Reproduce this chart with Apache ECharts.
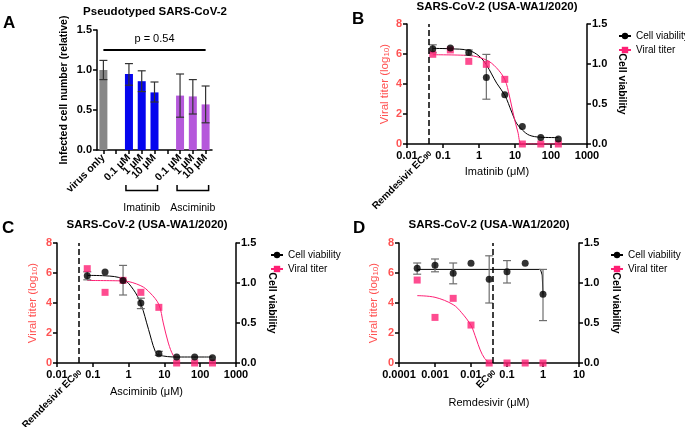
<!DOCTYPE html>
<html><head><meta charset="utf-8">
<script src="https://cdn.jsdelivr.net/npm/echarts@6/dist/echarts.min.js"></script>
<style>html,body{margin:0;padding:0;background:#fff}.pane{position:absolute;left:0;top:0;width:685px;height:427px}#err{position:absolute;left:250px;top:300px;font:9px monospace;color:#c00;white-space:pre-wrap;width:430px}</style>
</head><body><div id="err"></div>
<script>
const log = s => document.getElementById('err').textContent += s + '\n';
// ---------- Panel A data ----------
const aCategories = ['virus only', 'gap1', 'Ima 0.1', 'Ima 1', 'Ima 10', 'gap2', 'Asc 0.1', 'Asc 1', 'Asc 10'];
const aTickLabels = ['virus only', '', '0.1 μM', '1 μM', '10 μM', '', '0.1 μM', '1 μM', '10 μM'];
const aGroup = ['control', null, 'Imatinib', 'Imatinib', 'Imatinib', null, 'Asciminib', 'Asciminib', 'Asciminib'];
const aMean = [1.00, null, 0.95, 0.86, 0.72, null, 0.68, 0.67, 0.57];
const aLow  = [0.88, null, 0.81, 0.73, 0.60, null, 0.41, 0.45, 0.34];
const aHigh = [1.12, null, 1.08, 0.99, 0.85, null, 0.95, 0.88, 0.80];
const aPText = 'p = 0.54';
const aPLine = 1.25;
const aBracketNames = ['Imatinib', 'Asciminib'];
const aBracketRanges = [[2, 4], [6, 8]];

// ---------- Remdesivir EC90 (μM) ----------
const remEC90 = 0.038;

// ---------- Panel B (Imatinib) ----------
const bConc = [0.052, 0.16, 0.52, 1.6, 5.2, 16, 52, 160];
const bTiter = [5.98, 6.27, 5.51, 5.31, 4.31, 0, 0, 0];
const bViab = [1.19, 1.20, 1.145, 0.83, 0.615, 0.22, 0.08, 0.0625];
const bViabLow = [1.14, null, 1.11, 0.56, null, null, null, null];
const bViabHigh = [1.24, null, 1.175, 1.12, null, null, null, null];
const bFitViabX = [0.052, 0.16, 0.52, 1.0, 1.6, 3.1, 5.2, 8.1, 11, 16, 25, 50, 160];
const bFitViabY = [1.195, 1.19, 1.17, 1.10, 0.99, 0.76, 0.61, 0.40, 0.26, 0.175, 0.11, 0.085, 0.08];
const bFitTiterX = [0.052, 0.52, 1.6, 3.0, 5.2, 7, 9, 12, 16, 160];
const bFitTiterY = [5.95, 5.9, 5.6, 5.1, 4.3, 3.2, 2.0, 0.8, 0, 0];

// ---------- Panel C (Asciminib) ----------
const cConc = [0.07, 0.22, 0.7, 2.2, 7, 22, 70, 220];
const cTiter = [6.29, 4.71, 5.51, 4.71, 3.71, 0, 0, 0];
const cViab = [1.09, 1.1375, 1.03, 0.75, 0.117, 0.075, 0.075, 0.067];
const cViabLow = [1.04, null, 0.85, 0.68, 0.096, null, null, null];
const cViabHigh = [1.14, null, 1.22, 0.81, 0.146, null, null, null];
const cFitViabX = [0.07, 0.22, 0.7, 1.35, 2.2, 3.6, 5.5, 7, 22, 220];
const cFitViabY = [1.095, 1.09, 1.05, 0.92, 0.74, 0.42, 0.15, 0.10, 0.075, 0.075];
const cFitTiterX = [0.07, 0.7, 2.2, 4.0, 7, 9.3, 12.9, 17.7, 22];
const cFitTiterY = [5.5, 5.47, 5.15, 4.67, 3.9, 2.67, 1.33, 0.5, 0.35];

// ---------- Panel D (Remdesivir) ----------
const dConc = [0.00032, 0.001, 0.0032, 0.01, 0.032, 0.1, 0.32, 1];
const dTiter = [5.53, 3.04, 4.31, 2.53, 0, 0, 0, 0];
const dViab = [1.183, 1.221, 1.121, 1.246, 1.046, 1.142, 1.246, 0.858];
const dViabLow = [1.11, 1.14, 0.99, null, 0.75, 1.00, null, 0.53];
const dViabHigh = [1.25, 1.30, 1.25, null, 1.34, 1.28, null, 1.17];
const dFitViabX = [0.00032, 0.85, 0.95, 1.0];
const dFitViabY = [1.17, 1.17, 1.10, 0.858];
const dFitTiterX = [0.00032, 0.001, 0.0032, 0.0055, 0.01, 0.014, 0.018, 0.024, 0.032];
const dFitTiterY = [4.49, 4.38, 3.89, 3.35, 2.5, 1.6, 0.87, 0.3, 0.03];

const panelTitle = 'SARS-CoV-2 (USA-WA1/2020)';
const aTitle = 'Pseudotyped SARS-CoV-2';
const legendNames = ['Cell viability', 'Viral titer'];

// ---------- styles ----------
const FONT = '"Liberation Sans", Arial, Helvetica, sans-serif';
const RED = '#ff5252';
const PINK = '#fe1f74';
const groupColor = { control: '#878787', Imatinib: '#0505ee', Asciminib: '#b558db' };

const axLine = () => ({ show: true, onZero: false, lineStyle: { color: '#000', width: 1.5 } });
const axTick = () => ({ show: true, length: 4, lineStyle: { color: '#000', width: 1.5 } });
const tickFont = () => ({ fontFamily: FONT, fontWeight: 'bold', fontSize: 11, color: '#000' });
const fmtLog = v => String(Number(Number(v).toPrecision(3)));
const zip = (a, b) => a.map((v, i) => [v, b[i]]);

function makeChart() {
  const d = document.createElement('div'); d.className = 'pane';
  document.body.insertBefore(d, document.getElementById('err'));
  return echarts.init(d);
}
function safeSet(chart, opt, label) {
  try { chart.setOption(opt); return true; } catch (e) { log(label + ': ' + e.message); return false; }
}
function errRenderer(color, cap, lw) {
  return function (params, api) {
    const x = api.value(0), lo = api.value(1), hi = api.value(2);
    const p1 = api.coord([x, lo]), p2 = api.coord([x, hi]);
    const st = { stroke: color, lineWidth: lw };
    return { type: 'group', children: [
      { type: 'line', shape: { x1: p1[0], y1: p1[1], x2: p2[0], y2: p2[1] }, style: st },
      { type: 'line', shape: { x1: p1[0] - cap, y1: p1[1], x2: p1[0] + cap, y2: p1[1] }, style: st },
      { type: 'line', shape: { x1: p2[0] - cap, y1: p2[1], x2: p2[0] + cap, y2: p2[1] }, style: st }
    ] };
  };
}
function errData(xs, lo, hi) { const out = []; xs.forEach((x, i) => { if (lo[i] != null) out.push([x, lo[i], hi[i]]); }); return out; }
const letterEl = (t, x, y) => ({ type: 'text', x: x, y: y, silent: true,
  style: { text: t, fontFamily: FONT, fontWeight: 'bold', fontSize: 17, fill: '#000', align: 'left', verticalAlign: 'middle' } });
const titleEl = (t, x, y) => ({ type: 'text', x: x, y: y, silent: true,
  style: { text: t, fontFamily: FONT, fontWeight: 'bold', fontSize: 11.5, fill: '#000', align: 'center', verticalAlign: 'middle' } });

// ================= Panel A =================
const chartA = makeChart();
const gridA = { left: 97, top: 30, width: 115, height: 120 };
safeSet(chartA, {
  animation: false,
  grid: gridA,
  xAxis: { type: 'category', data: aCategories, axisLine: axLine(),
    axisTick: Object.assign({ alignWithLabel: true, interval: 0 }, axTick()),
    axisLabel: Object.assign(tickFont(), { fontSize: 10.5, interval: 0, rotate: 45, margin: 6, formatter: (v, i) => aTickLabels[i] }) },
  yAxis: { type: 'value', min: 0, max: 1.5, interval: 0.5, axisLine: axLine(), axisTick: axTick(), splitLine: { show: false },
    axisLabel: Object.assign(tickFont(), { margin: 5, formatter: v => Number(v).toFixed(1) }),
    name: 'Infected cell number (relative)', nameLocation: 'middle', nameGap: 27, nameRotate: 90,
    nameTextStyle: { fontFamily: FONT, fontSize: 10.5, fontWeight: 'bold', color: '#000' } },
  series: [
    { type: 'bar', barWidth: 8, silent: true,
      data: aMean.map((v, i) => v == null ? '-' : { value: v, itemStyle: { color: groupColor[aGroup[i]] } }),
      markLine: { silent: true, symbol: ['none', 'none'], lineStyle: { color: '#000', width: 2, type: 'solid' },
        label: { show: true, position: 'middle', formatter: aPText, distance: 6, fontFamily: FONT, fontSize: 11, color: '#000' },
        data: [[{ coord: [0, aPLine] }, { coord: [8, aPLine] }]] } },
    { type: 'custom', silent: true, z: 3,
      data: aMean.map((v, i) => v == null ? null : [i, aLow[i], aHigh[i]]).filter(d => d),
      renderItem: errRenderer('#333', 4, 1.2) }
  ]
}, 'A');
try {
  const gA = [letterEl('A', 3, 23), titleEl(aTitle, 155, 12)];
  aBracketRanges.forEach((r, k) => {
    const x1 = chartA.convertToPixel({ xAxisIndex: 0 }, r[0]) - 3;
    const x2 = chartA.convertToPixel({ xAxisIndex: 0 }, r[1]) + 3;
    gA.push({ type: 'polyline', silent: true, shape: { points: [[x1, 185], [x1, 190.5], [x2, 190.5], [x2, 185]] },
      style: { stroke: '#000', lineWidth: 1.5, fill: null } });
    gA.push({ type: 'text', x: (x1 + x2) / 2, y: 208, silent: true,
      style: { text: aBracketNames[k], fontFamily: FONT, fontSize: 10.5, fill: '#000', align: 'center', verticalAlign: 'middle' } });
  });
  chartA.setOption({ graphic: gA });
} catch (e) { log('A graphic: ' + e.message); }

// ================= Panels B, C, D =================
function panel(cfg) {
  const chart = makeChart();
  const G = cfg.grid;
  const opt = {
    animation: false,
    grid: { left: G.left, top: G.top, width: G.width, height: G.height },
    legend: { left: cfg.legend[0], top: cfg.legend[1], orient: 'vertical', itemWidth: 12, itemHeight: 8, itemGap: 4,
      selectedMode: false, data: legendNames.slice(),
      textStyle: { fontFamily: FONT, fontSize: 10, color: '#000' } },
    xAxis: { type: 'log', logBase: 10, min: cfg.xmin, max: cfg.xmax,
      axisLine: axLine(), axisTick: axTick(), splitLine: { show: false },
      axisLabel: Object.assign(tickFont(), { margin: 6, formatter: fmtLog }),
      name: cfg.xName, nameLocation: 'middle', nameGap: cfg.xGap,
      nameTextStyle: { fontFamily: FONT, fontSize: 11, color: '#000' } },
    yAxis: [
      { type: 'value', position: 'left', min: 0, max: 8, interval: 2,
        axisLine: axLine(), axisTick: axTick(), splitLine: { show: false },
        axisLabel: Object.assign(tickFont(), { color: RED, margin: 5 }),
        name: 'Viral titer (log{s|10})', nameLocation: 'middle', nameGap: cfg.lGap, nameRotate: 90,
        nameTextStyle: { fontFamily: FONT, fontSize: 11.5, color: RED,
          rich: { s: { fontFamily: FONT, fontSize: 8, color: RED, verticalAlign: 'bottom' } } } },
      { type: 'value', position: 'right', min: 0, max: 1.5, interval: 0.5,
        axisLine: axLine(), axisTick: axTick(), splitLine: { show: false },
        axisLabel: Object.assign(tickFont(), { margin: 5, formatter: v => Number(v).toFixed(1) }),
        name: 'Cell viability', nameLocation: 'middle', nameGap: cfg.rGap, nameRotate: -90,
        nameTextStyle: { fontFamily: FONT, fontSize: 10.5, fontWeight: 'bold', color: '#000' } }
    ],
    series: [
      { type: 'line', name: legendNames[0], yAxisIndex: 1, data: zip(cfg.fvx, cfg.fvy),
        smooth: cfg.smoothV ? 0.35 : false, symbol: 'circle', showSymbol: false, symbolSize: 7,
        lineStyle: { color: '#000', width: 1 }, itemStyle: { color: '#000' }, z: 2, silent: true },
      { type: 'line', name: legendNames[1], yAxisIndex: 0, data: zip(cfg.ftx, cfg.fty),
        smooth: 0.35, symbol: 'rect', showSymbol: false, symbolSize: 7,
        lineStyle: { color: PINK, width: 1 }, itemStyle: { color: PINK }, z: 2, silent: true,
        markLine: { silent: true, symbol: ['none', 'none'], label: { show: false },
          lineStyle: { color: '#000', width: 1.5, type: 'dashed' }, data: [{ xAxis: remEC90 }] } },
      { type: 'custom', yAxisIndex: 1, data: errData(cfg.conc, cfg.lo, cfg.hi),
        renderItem: errRenderer('#6e6e6e', 4, 1.2), z: 3, silent: true },
      { type: 'scatter', name: legendNames[1], yAxisIndex: 0, data: zip(cfg.conc, cfg.titer),
        symbol: 'rect', symbolSize: 7, itemStyle: { color: PINK }, z: 4, silent: true },
      { type: 'scatter', name: legendNames[0], yAxisIndex: 1, data: zip(cfg.conc, cfg.viab),
        symbol: 'circle', symbolSize: 7, itemStyle: { color: '#000' }, z: 5, silent: true }
    ]
  };
  if (!safeSet(chart, opt, cfg.letter)) {
    chart.dispose();
    const c2 = makeChart();
    delete opt.xAxis.name; opt.yAxis.forEach(a => delete a.name);
    safeSet(c2, opt, cfg.letter + ' fallback');
    return;
  }
  try {
    const g = [letterEl(cfg.letter, cfg.letterPos[0], cfg.letterPos[1]), titleEl(panelTitle, cfg.titlePos[0], cfg.titlePos[1])];
    const px = chart.convertToPixel({ xAxisIndex: 0 }, remEC90);
    const py = G.top + G.height;
    g.push({ type: 'text', x: px + 2, y: py + 8, rotation: Math.PI / 4, silent: true,
      style: { text: cfg.ecText, fontFamily: FONT, fontWeight: 'bold', fontSize: 10, fill: '#000',
        align: 'right', verticalAlign: 'middle',
        rich: { s: { fontFamily: FONT, fontWeight: 'bold', fontSize: 7.5, fill: '#000', verticalAlign: 'bottom' } } } });
    chart.setOption({ graphic: g });
  } catch (e) { log(cfg.letter + ' graphic: ' + e.message); }
}

panel({ letter: 'B', letterPos: [352, 19], titlePos: [497, 7],
  grid: { left: 407, top: 24, width: 180, height: 120 }, xmin: 0.01, xmax: 1000,
  xName: 'Imatinib (μM)', xGap: 22, lGap: 16, rGap: 29, legend: [613, 26], ecText: 'Remdesivir EC{s|90}',
  conc: bConc, titer: bTiter, viab: bViab, lo: bViabLow, hi: bViabHigh,
  fvx: bFitViabX, fvy: bFitViabY, ftx: bFitTiterX, fty: bFitTiterY, smoothV: true });
panel({ letter: 'C', letterPos: [2, 228], titlePos: [147, 225],
  grid: { left: 57, top: 243, width: 179, height: 120 }, xmin: 0.01, xmax: 1000,
  xName: 'Asciminib (μM)', xGap: 23, lGap: 18, rGap: 30, legend: [265, 245], ecText: 'Remdesivir EC{s|90}',
  conc: cConc, titer: cTiter, viab: cViab, lo: cViabLow, hi: cViabHigh,
  fvx: cFitViabX, fvy: cFitViabY, ftx: cFitTiterX, fty: cFitTiterY, smoothV: true });
panel({ letter: 'D', letterPos: [353, 228], titlePos: [489, 225],
  grid: { left: 399, top: 243, width: 180, height: 120 }, xmin: 0.0001, xmax: 10,
  xName: 'Remdesivir (μM)', xGap: 34, lGap: 19, rGap: 31, legend: [605, 245], ecText: 'EC{s|90}',
  conc: dConc, titer: dTiter, viab: dViab, lo: dViabLow, hi: dViabHigh,
  fvx: dFitViabX, fvy: dFitViabY, ftx: dFitTiterX, fty: dFitTiterY, smoothV: false });
</script>
</body></html>
